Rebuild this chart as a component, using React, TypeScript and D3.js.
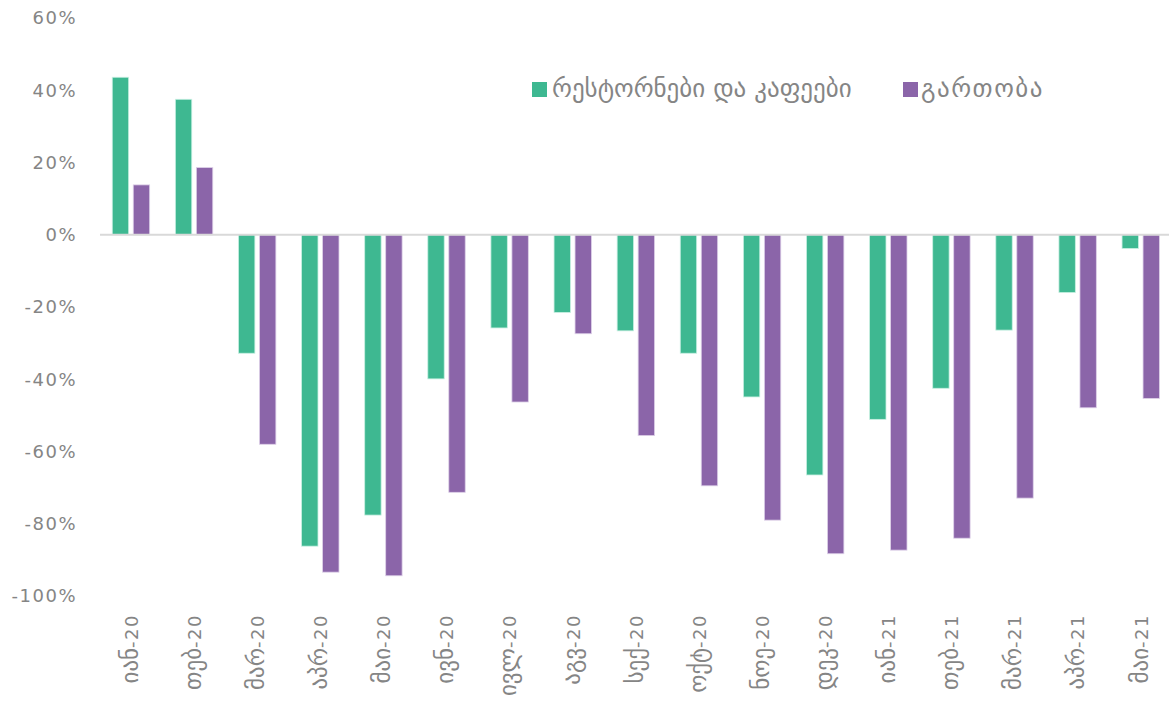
import React from "react";
import * as d3 from "d3";

const categories = ["იან-20","თებ-20","მარ-20","აპრ-20","მაი-20","ივნ-20","ივლ-20","აგვ-20","სექ-20","ოქტ-20","ნოე-20","დეკ-20","იან-21","თებ-21","მარ-21","აპრ-21","მაი-21"];
const restaurants = [43.6, 37.5, -32.8, -86.2, -77.6, -39.9, -25.8, -21.5, -26.6, -32.8, -44.9, -66.5, -51.1, -42.5, -26.4, -16.0, -3.8];
const entertainment = [13.8, 18.6, -58.0, -93.4, -94.4, -71.3, -46.3, -27.4, -55.6, -69.5, -79.0, -88.3, -87.3, -84.0, -72.9, -47.9, -45.3];
const seriesNames = ["რესტორნები და კაფეები", "გართობა"];
const yTicks = [60, 40, 20, 0, -20, -40, -60, -80, -100];

const colors = ["#3eb891", "#8b65a9"];
const strokes = ["#c8efe2", "#ddd0e8"];
const textColor = "#858585";
const font = "'DejaVu Sans', sans-serif";

function splitLabel(c: string) {
  const i = c.indexOf("-");
  return [c.slice(0, i), c.slice(i)];
}

export default function App() {
  const W = 1169, H = 705;
  const y = d3.scaleLinear().domain([-100, 60]).range([596, 18]);
  const x = d3.scaleBand().domain(categories).range([99.4, 1172.3]).padding(0);
  const x1 = d3.scaleBand().domain(["0", "1"]).range([-18.7, 18.7]).paddingInner(0.219).paddingOuter(0);
  const seriesData = [restaurants, entertainment];

  return (
    <svg width={W} height={H} style={{ position: "absolute", left: 0, top: 0, background: "#fff" }} fontFamily={font}>
      {yTicks.map((t) => (
        <text key={t} x={77} y={y(t)} dy="0.36em" textAnchor="end" fontSize={18} letterSpacing={1.5} fill={textColor}>
          {t + "%"}
        </text>
      ))}
      {seriesData.map((vals, si) =>
        vals.map((v, i) => {
          const cx = (x(categories[i]) as number) + x.bandwidth() / 2;
          const bx = cx + (x1(String(si)) as number);
          const y0 = y(Math.max(0, v));
          const y1 = y(Math.min(0, v));
          return (
            <rect key={si + "-" + i} x={bx} y={y0} width={x1.bandwidth()} height={y1 - y0}
              fill={colors[si]} stroke={strokes[si]} strokeWidth={0.8} />
          );
        })
      )}
      <line x1={100} x2={W} y1={y(0)} y2={y(0)} stroke="#d9d9d9" strokeWidth={2} />
      {categories.map((c) => {
        const cx = (x(c) as number) + x.bandwidth() / 2;
        const [geo, num] = splitLabel(c);
        return (
          <text key={c} transform={`translate(${cx + 1},614) rotate(-90)`} textAnchor="end" dy="0.36em" fill={textColor}>
            <tspan fontSize={23}>{geo}</tspan>
            <tspan fontSize={18} letterSpacing={1.5}>{num}</tspan>
          </text>
        );
      })}
      <g>
        <rect x={532} y={82} width={15} height={15} fill={colors[0]} />
        <text x={552} y={97} fontSize={25} fill={textColor}>{seriesNames[0]}</text>
        <rect x={903} y={82} width={15} height={15} fill={colors[1]} />
        <text x={921} y={97} fontSize={25} letterSpacing={1.5} fill={textColor}>{seriesNames[1]}</text>
      </g>
    </svg>
  );
}
